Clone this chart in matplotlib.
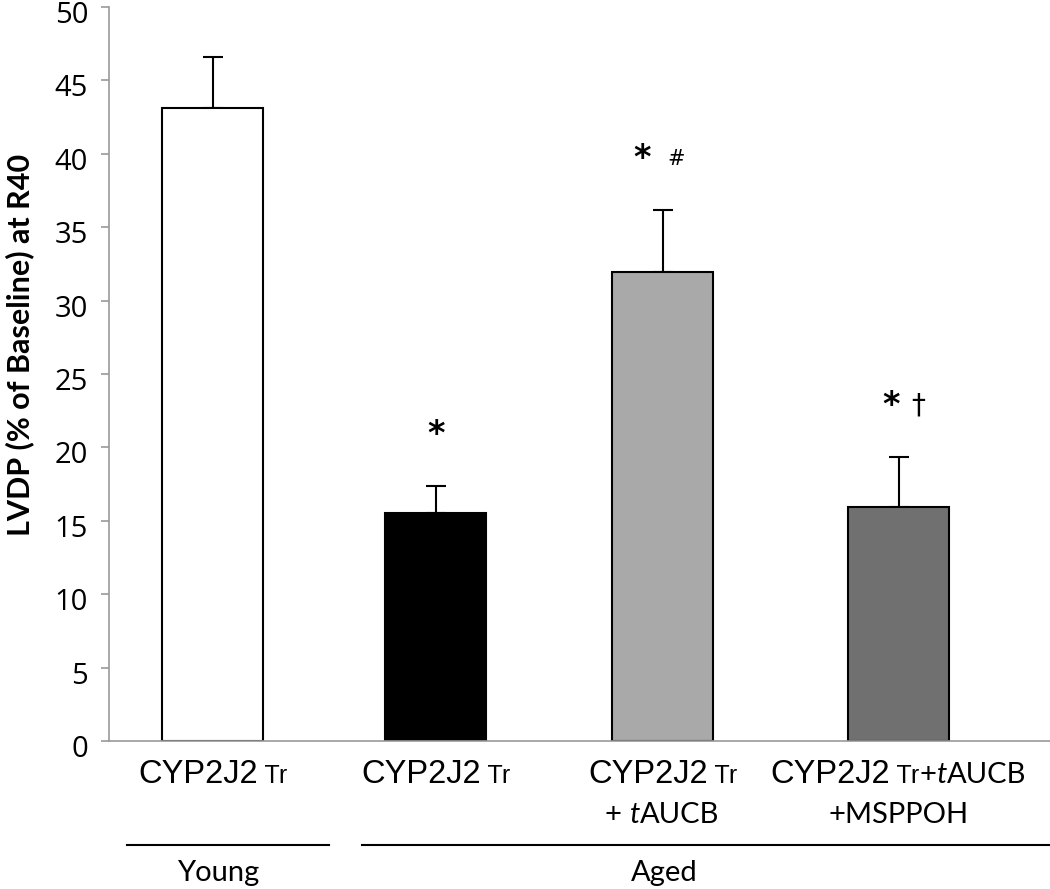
import matplotlib
matplotlib.use("Agg")
import matplotlib.pyplot as plt
import matplotlib.transforms as mtransforms
from matplotlib.lines import Line2D

# data
groups = ["Young", "Aged", "Aged", "Aged"]
means = [43.12, 15.51, 31.97, 15.94]
sems = [3.47, 1.86, 4.18, 3.41]
bar_colors = ["white", "black", "#a9a9a9", "#707070"]
yticks = list(range(0, 51, 5))
marks = [[], [("*", 0.0)], [("*", -0.09), ("#", 0.06)], [("*", -0.035), ("\u2020", 0.087)]]

plt.rcParams["font.family"] = ["Open Sans", "DejaVu Sans"]

W, H = 1050, 889
fig = plt.figure(figsize=(W / 100, H / 100), dpi=100)
ax = fig.add_axes([109 / W, 1 - 741 / H, 1 - 109 / W, (741 - 7) / H])

xpos = [0, 0.993, 2.0, 3.049]
ax.bar(xpos, means, width=0.449, color=bar_colors, edgecolor="black", linewidth=1.5, zorder=2)
ax.errorbar(xpos, means, yerr=[[0] * 4, sems], fmt="none", ecolor="black",
            elinewidth=1.5, capsize=7, capthick=1.5, zorder=1)

ax.set_xlim(-0.46, 3.722)
ax.set_ylim(0, 50)
ax.set_xticks([])
for s in ["top", "right"]:
    ax.spines[s].set_visible(False)
for s in ["left", "bottom"]:
    ax.spines[s].set_color("#999999")
    ax.spines[s].set_linewidth(1.2)
ax.tick_params(axis="y", direction="out", length=6, width=1.2, color="#999999", pad=9)
ax.set_yticks(yticks, labels=[str(t) for t in yticks], fontfamily="Open Sans", fontsize=21)
shift = mtransforms.ScaledTranslation(0, -5 / 100, fig.dpi_scale_trans)
for tk in ax.yaxis.get_major_ticks():
    tk.label1.set_transform(tk.label1.get_transform() + shift)

fig.text(20 / W, 1 - 345 / H, "LVDP (% of Baseline) at R40", rotation=90,
         ha="center", va="center", fontfamily="Lato", fontweight="bold", fontsize=22)

# significance marks above the error bars
for x, m, e, mk in zip(xpos, means, sems, marks):
    for sym, dx in mk:
        size = 24 if sym == "*" else (15 if sym == "#" else 20)
        ax.text(x + dx, m + e + 3.5, sym, ha="center", va="center", fontsize=size,
                fontfamily="DejaVu Sans", fontweight="bold" if sym == "*" else "normal")

# category labels built from pieces (mixed fonts)
arial = dict(fontfamily="Liberation Sans", fontsize=23.5)
arial_s = dict(fontfamily="Liberation Sans", fontsize=18)
cal = dict(fontfamily="Lato", fontsize=21)
cal_i = dict(fontfamily="Lato", fontsize=21, fontstyle="italic")
labels = [
    [[("CYP2J2", arial), (" Tr", arial_s)]],
    [[("CYP2J2", arial), (" Tr", arial_s)]],
    [[("CYP2J2", arial), (" Tr", arial_s)], [("+ ", cal), ("t", cal_i), ("AUCB", cal)]],
    [[("CYP2J2", arial), (" Tr", arial_s), ("+", cal), ("t", cal_i), ("AUCB", cal)],
     [("+MSPPOH", cal)]],
]
baselines = [783, 823]

renderer = fig.canvas.get_renderer()


def mixed_text(cx_px, base_px, pieces):
    items = []
    for s, kw in pieces:
        t = fig.text(0, 1 - base_px / H, s, ha="left", va="baseline", **kw)
        items.append((t, t.get_window_extent(renderer).width))
    total = sum(w for _, w in items)
    x = min(cx_px - total / 2, W - 4 - total)
    for t, w in items:
        t.set_x(x / W)
        x += w


for x, rows in zip(xpos, labels):
    cx = ax.transData.transform((x, 0))[0]
    for row, b in zip(rows, baselines):
        mixed_text(cx, b, row)

# group brackets
for name, x0, x1, cx in [("Young", 127, 329, 218), ("Aged", 362, 1050, 664)]:
    fig.add_artist(Line2D([x0 / W, x1 / W], [1 - 845 / H] * 2, color="black",
                          linewidth=1.5, transform=fig.transFigure))
    fig.text(cx / W, 1 - 881 / H, name, ha="center", va="baseline", fontfamily="Lato",
             fontsize=21)

fig.savefig("out.png", dpi=100)
